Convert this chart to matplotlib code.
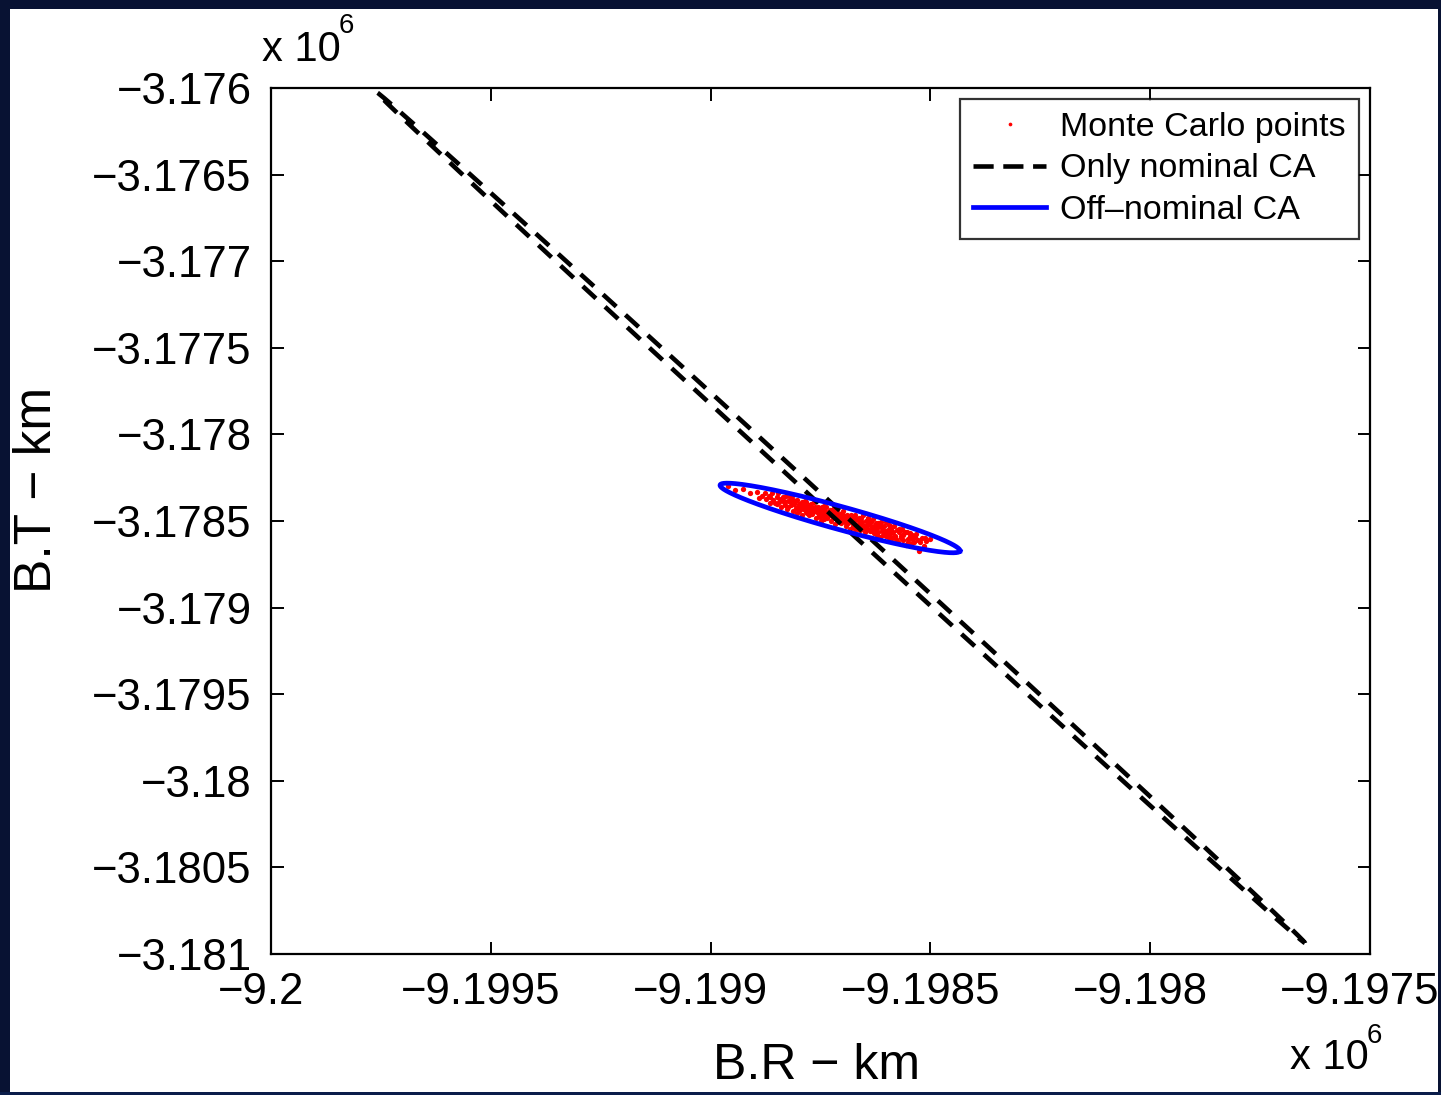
import numpy as np
import matplotlib
matplotlib.use("Agg")
import matplotlib.pyplot as plt
from matplotlib.patches import Rectangle
import matplotlib.transforms as mtransforms

plt.rcParams['font.family'] = ['Liberation Sans', 'DejaVu Sans']

# ---------------- data ----------------
x_ticks = [-9.2e6, -9.1995e6, -9.199e6, -9.1985e6, -9.198e6, -9.1975e6]
x_ticklabels = ['\u22129.2', '\u22129.1995', '\u22129.199', '\u22129.1985', '\u22129.198', '\u22129.1975']
y_ticks = [-3.176e6, -3.1765e6, -3.177e6, -3.1775e6, -3.178e6, -3.1785e6,
           -3.179e6, -3.1795e6, -3.18e6, -3.1805e6, -3.181e6]
y_ticklabels = ['\u22123.176', '\u22123.1765', '\u22123.177', '\u22123.1775', '\u22123.178',
                '\u22123.1785', '\u22123.179', '\u22123.1795', '\u22123.18', '\u22123.1805', '\u22123.181']

# nominal CA ellipse (km): centre, semi-major vector, semi-minor vector
nominal_center = (-9198704.0, -3178480.0)
nominal_major = (1056.0, -2456.0)
nominal_minor = (6.9, 19.1)

# off-nominal CA ellipse (km)
offnom_center = (-9198705.6, -3178482.5)
offnom_major = (272.9, -190.5)
offnom_minor = (6.9, 64.0)

# Monte Carlo points: offsets (km) from reference point
MC_BR0 = -9198705.0
MC_BT0 = -3178482.0
mc_dbr = [-255, -240, -222, -205, -190, -185, -178, -172, -168, -163, -160, -155, -152, -148,
          -145, -142, -140, -137, -134, -131, -128, -126, -123, -120, -118, -115, -112, -110,
          -108, -105, -103, -100, -98, -96, -94, -92, -90, -88, -86, -84, -82, -80, -78, -76,
          -74, -72, -70, -68, -66, -64, -62, -60, -58, -56, -54, -52, -50, -48, -46, -44, -42,
          -40, -38, -36, -34, -32, -30, -28, -26, -24, -22, -20, -18, -16, -14, -12, -10, -8,
          -6, -4, -2, 0, 2, 4, 6, 8, 10, 12, 14, 16, 18, 20, 22, 24, 26, 28, 30, 32, 34, 36,
          38, 40, 42, 44, 46, 48, 50, 52, 54, 56, 58, 60, 62, 64, 66, 68, 70, 72, 74, 76, 78,
          80, 82, 84, 86, 88, 90, 92, 94, 96, 98, 100, 102, 104, 106, 108, 110, 112, 114, 116,
          118, 120, 122, 125, 128, 131, 134, 137, 140, 143, 146, 149, 152, 155, 158, 161, 164,
          168, 172, 176, 180, 185, 190, 196, 205,
          -135, -121, -107, -97, -87, -77, -67, -57, -47, -37, -27, -17, -7, 3, 13, 23, 33, 43,
          53, 63, 73, 83, 93, 103, 113, 123, 133, 143, 153, 163, -145, -115, -95, -75, -55, -35,
          -15, 5, 25, 45, 65, 85, 105, 127, 147, 170, -129, -99, -69, -39, -9, 21, 51, 81, 111,
          139, 159, 181, 192, -160]
mc_dbt = [184, 162, 165, 141, 149, 117, 128, 144, 110, 127, 88, 141, 106, 88,
          121, 144, 93, 104, 65, 118, 93, 74, 124, 95, 61, 100, 75, 125,
          41, 80, 96, 57, 104, 65, 39, 80, 68, 19, 89, 49, 70, 98, 36, 55,
          74, 18, 59, 42, 78, 21, 57, 93, 38, -1, 59, 36, 64, 18, 40, -17, 64,
          18, 45, -4, 29, 65, 0, 33, 16, 43, -20, 20, 43, -2, 26, -37, 9, 44,
          -15, 14, -4, 24, -31, 5, 42, -17, 12, -46, -7, 16, -29, -1, -66, 17, -24, -2, -47, -17, 18, -39,
          -5, -62, -19, -34, -2, -56, -21, 14, -48, -81, -20, -42, -8, -63, -38, -77, -23, -55, -9, -88, -42,
          -69, -28, -57, -84, -44, -109, -26, -74, -56, -96, -48, -73, -25, -93, -70, -115, -48, -91, -67,
          -115, -81, -45, -104, -71, -137, -84, -102, -66, -126, -89, -157, -84, -122, -106, -148, -99,
          -140, -91, -128, -190, -116, -162, -131, -120,
          109, 53, 104, 50, 71, 89, 33, 64, 3, 66, 8, 33, -21, 30, -30, -2, -66, -3,
          -56, 1, -75, -98, -49, -102, -69, -108, -66, -98, -139, -122, 83, 123, 81, 26, 45, 11,
          56, -14, 4, -70, -27, -28, -84, -123, -84, -108, 96, 31, 67, 24, 33, -17, -63, -49, -41,
          -115, -85, -141, -118, 118]

# ---------------- figure ----------------
W, H, DPI = 1441, 1095, 100
BG = '#081233'
fig = plt.figure(figsize=(W / DPI, H / DPI), dpi=DPI, facecolor=BG)

def px_rect(x0, y0, x1, y1, color, z):
    fig.patches.append(Rectangle((x0 / W, 1 - y1 / H), (x1 - x0) / W, (y1 - y0) / H,
                                 transform=fig.transFigure, facecolor=color,
                                 edgecolor='none', zorder=z))

# white panel (behind axes)
px_rect(10, 9, 1438, 1092, 'white', -10)

ax = fig.add_axes([271 / W, 1 - 954 / H, (1370 - 271) / W, (954 - 88) / H])
ax.set_zorder(1)
ax.set_facecolor('white')

theta = np.linspace(0, 2 * np.pi, 721)

def ellipse_pts(c, a, b):
    xs = c[0] + a[0] * np.cos(theta) + b[0] * np.sin(theta)
    ys = c[1] + a[1] * np.cos(theta) + b[1] * np.sin(theta)
    return xs, ys

mc_br = MC_BR0 + np.array(mc_dbr, dtype=float)
mc_bt = MC_BT0 + np.array(mc_dbt, dtype=float)

h_mc, = ax.plot(mc_br, mc_bt, linestyle='none', marker='o', markersize=3.8,
                color='red', markeredgewidth=0, label='Monte Carlo points', zorder=3)
nx, ny = ellipse_pts(nominal_center, nominal_major, nominal_minor)
h_nom, = ax.plot(nx, ny, color='black', lw=3.3, linestyle=(0, (3.9, 2.7)),
                 label='Only nominal CA', zorder=4)
ox, oy = ellipse_pts(offnom_center, offnom_major, offnom_minor)
h_off, = ax.plot(ox, oy, color='blue', lw=3.4, label='Off\u2013nominal CA', zorder=5)

ax.set_xlim(-9.2e6, -9.1975e6)
ax.set_ylim(-3.181e6, -3.176e6)
ax.set_xticks(x_ticks)
ax.set_xticklabels(x_ticklabels)
ax.set_yticks(y_ticks)
ax.set_yticklabels(y_ticklabels)

for sp in ax.spines.values():
    sp.set_linewidth(1.6)
    sp.set_color('black')
ax.tick_params(direction='in', length=9, width=1.4, top=True, right=True,
               labelsize=31.5, colors='black')
ax.tick_params(axis='x', pad=13)
ax.tick_params(axis='y', pad=14)

# MATLAB-like shift of x tick labels to the left
shift = mtransforms.ScaledTranslation(-10 / DPI, 0, fig.dpi_scale_trans)
for lab in ax.get_xticklabels():
    lab.set_transform(lab.get_transform() + shift)

ax.set_xlabel('B.R \u2212 km', fontsize=36)
ax.set_ylabel('B.T \u2212 km', fontsize=37)
ax.xaxis.set_label_coords((816 - 271) / (1370 - 271), -(1066 - 954) / (954 - 88))
ax.yaxis.set_label_coords(-(271 - 38) / (1370 - 271), 1 - (490 - 88) / (954 - 88))
ax.xaxis.label.set_verticalalignment('center')
ax.yaxis.label.set_verticalalignment('center')

leg = ax.legend(handles=[h_mc, h_nom, h_off], loc='upper right',
                bbox_to_anchor=((1359 - 271) / (1370 - 271), 1 - (99 - 88) / (954 - 88)),
                borderaxespad=0, fontsize=24.5, frameon=True, fancybox=False,
                handlelength=2.15, handletextpad=0.42, labelspacing=0.31,
                borderpad=0.38, markerscale=0.7)
leg.get_frame().set_edgecolor('black')
leg.get_frame().set_linewidth(1.6)
leg.get_lines()[1].set_linestyle((0, (4.4, 2.1)))

# exponent labels
fig.text(262 / W, 1 - 50 / H, 'x 10', fontsize=30, ha='left', va='center')
fig.text(339 / W, 1 - 26 / H, '6', fontsize=20, ha='left', va='center')
fig.text(1290 / W, 1 - 1058 / H, 'x 10', fontsize=30, ha='left', va='center')
fig.text(1367 / W, 1 - 1036 / H, '6', fontsize=20, ha='left', va='center')

# dark border on top (clips right edge as in reference)
px_rect(1438, 0, 1441, 1095, BG, 10)
px_rect(0, 1092, 1441, 1095, '#0a1d4a', 10)

fig.savefig('out.png', dpi=DPI, facecolor=fig.get_facecolor())
